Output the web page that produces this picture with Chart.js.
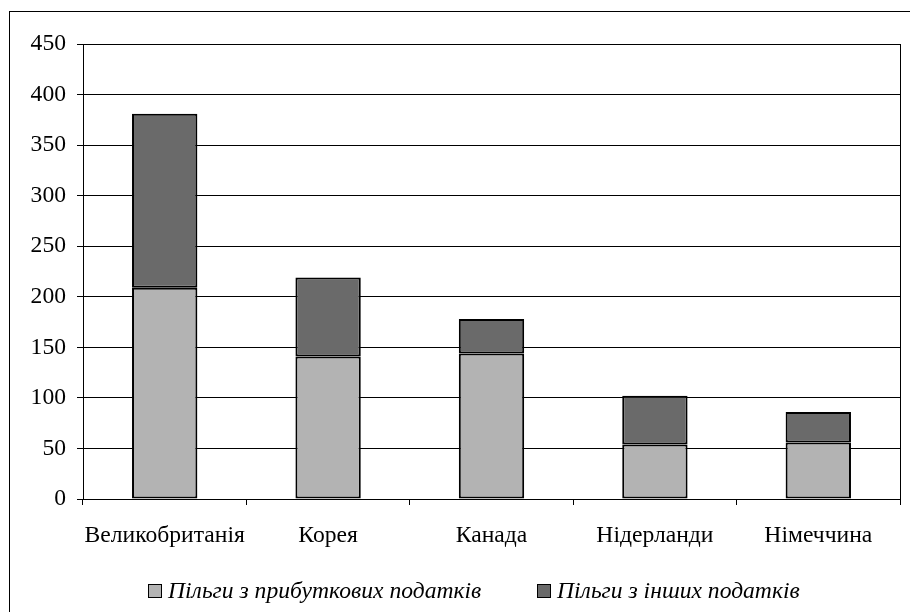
<!DOCTYPE html>
<html>
<head>
<meta charset="utf-8">
<script src="https://cdn.jsdelivr.net/npm/chart.js@4/dist/chart.umd.min.js"></script>
<style>
html,body{margin:0;padding:0;overflow:hidden;background:#fff;width:910px;height:612px;}
#wrap{position:relative;width:910px;height:612px;}
#frame{position:absolute;left:9px;top:11px;width:1000px;height:1000px;border:1px solid #000;box-sizing:border-box;pointer-events:none;}
canvas{position:absolute;left:0;top:0;}
.lg{position:absolute;font-family:"Liberation Serif","Times New Roman",serif;font-style:italic;font-size:23.6px;color:#000;white-space:nowrap;line-height:1;}
.bx{position:absolute;width:12px;height:12px;border:1px solid #000;}
</style>
</head>
<body>
<div id="wrap">
<div id="frame"></div>
<canvas id="c" width="910" height="612"></canvas>
<div class="bx" id="b1" style="left:148px;top:584px;"></div>
<div class="lg" id="t1" style="left:168px;top:579px;"></div>
<div class="bx" id="b2" style="left:537px;top:584px;"></div>
<div class="lg" id="t2" style="left:557px;top:579px;"></div>
</div>
<script>
const categories = ["Великобританія", "Корея", "Канада", "Нідерланди", "Німеччина"];
const seriesNames = ["Пільги з прибуткових податків", "Пільги з інших податків"];
const incomeTax = [209, 141, 144, 54, 56];
const otherTax = [172, 78, 34, 48, 30];
const yTicks = [0, 50, 100, 150, 200, 250, 300, 350, 400, 450];
const colors = ["#b3b3b3", "#6a6a6a"];

document.getElementById('t1').textContent = seriesNames[0];
document.getElementById('t2').textContent = seriesNames[1];
document.getElementById('b1').style.background = colors[0];
document.getElementById('b2').style.background = colors[1];

const FONT = {family: '"Liberation Serif", "Times New Roman", serif', size: 23.6};

new Chart(document.getElementById('c'), {
  type: 'bar',
  data: {
    labels: categories,
    datasets: [
      {label: seriesNames[0], data: incomeTax, backgroundColor: colors[0], borderColor: '#000', borderWidth: 2, borderSkipped: false, barPercentage: 0.4, categoryPercentage: 1},
      {label: seriesNames[1], data: otherTax, backgroundColor: colors[1], borderColor: '#000', borderWidth: 2, borderSkipped: false, barPercentage: 0.4, categoryPercentage: 1}
    ]
  },
  options: {
    responsive: false,
    animation: false,
    devicePixelRatio: 1,
    layout: {padding: {top: 44, left: 0, right: 0, bottom: 0}},
    plugins: {legend: {display: false}, tooltip: {enabled: false}},
    scales: {
      x: {
        stacked: true,
        offset: true,
        grid: {display: true, drawOnChartArea: false, drawTicks: true, tickLength: 6, offset: true, color: '#000', lineWidth: 1},
        border: {display: true, color: '#000', width: 1},
        ticks: {color: '#000', font: FONT, padding: 17, maxRotation: 0, autoSkip: false},
        afterFit: s => { s.height = 113; }
      },
      y: {
        stacked: true,
        min: 0,
        max: 450,
        afterBuildTicks: s => { s.ticks = yTicks.map(v => ({value: v})); },
        grid: {color: '#000', lineWidth: 1, drawTicks: true, tickLength: 6},
        border: {display: true, color: '#000', width: 1},
        ticks: {color: '#000', font: FONT, padding: 11},
        afterFit: s => { s.width = 83; }
      },
      y2: {
        position: 'right',
        min: 0,
        max: 450,
        grid: {display: false},
        border: {display: true, color: '#000', width: 1},
        ticks: {display: false},
        afterFit: s => { s.width = 10; }
      }
    }
  }
});
</script>
</body>
</html>
